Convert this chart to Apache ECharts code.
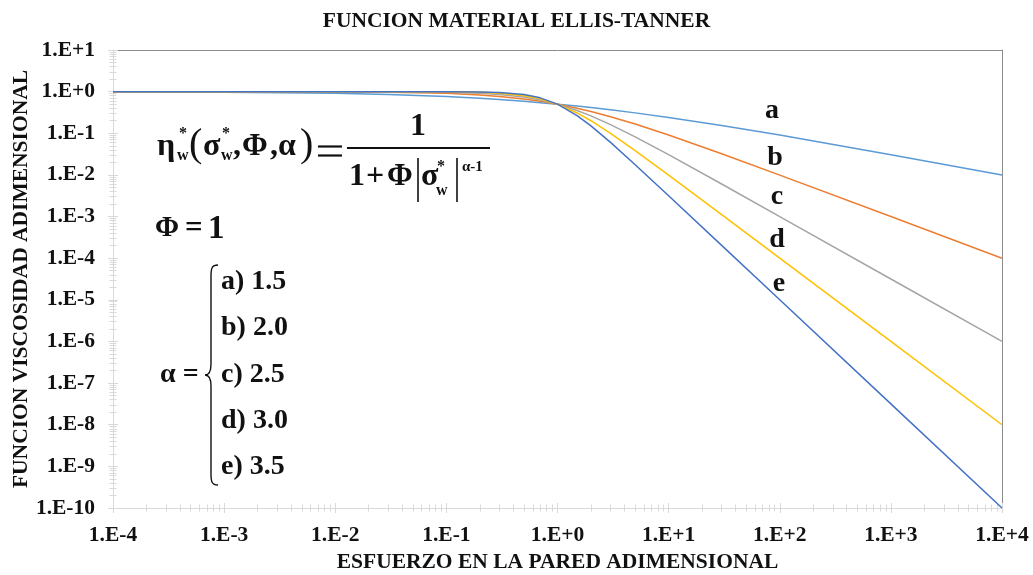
<!DOCTYPE html>
<html>
<head>
<meta charset="utf-8">
<style>
  html, body { margin: 0; padding: 0; background: #fff; }
  #chart { width: 1033px; height: 575px; }
</style>
<script src="https://cdn.jsdelivr.net/npm/echarts@6/dist/echarts.min.js"></script>
</head>
<body>
<div id="chart"></div>
<script>
// Ellis-Tanner material function, eta*(sigma*) for five values of alpha (Phi = 1)
const sigma = [1e-4, 1e-3, 0.01, 0.03, 0.1, 0.2, 0.3, 0.5, 0.7, 1, 1.5, 2, 3, 5, 10, 30, 100, 1000, 10000];
const etaA = [0.9901, 0.9693, 0.9091, 0.8524, 0.7597, 0.6910, 0.6461, 0.5858, 0.5445, 0.5, 0.4495, 0.4142, 0.3660, 0.3090, 0.2403, 0.1544, 0.0909, 0.03065, 0.0099];
const etaB = [0.9999, 0.999, 0.9901, 0.9709, 0.9091, 0.8333, 0.7692, 0.6667, 0.5882, 0.5, 0.4, 0.3333, 0.25, 0.1667, 0.0909, 0.03226, 0.0099, 0.000999, 0.0001];
const etaC = [0.999999, 0.99997, 0.999, 0.99483, 0.96935, 0.91789, 0.8589, 0.73882, 0.6307, 0.5, 0.3525, 0.2612, 0.1614, 0.0821, 0.03065, 0.006048, 0.000999, 3.162e-5, 1e-6];
const etaD = [1, 0.999999, 0.9999, 0.9991, 0.9901, 0.9615, 0.9174, 0.8, 0.6711, 0.5, 0.3077, 0.2, 0.1, 0.03846, 0.0099, 0.00111, 1e-4, 1e-6, 1e-8];
const etaE = [1, 1, 0.99999, 0.99984, 0.99685, 0.98243, 0.95302, 0.84984, 0.70924, 0.5, 0.26626, 0.15022, 0.06028, 0.01757, 0.003152, 0.0002028, 1e-5, 3.162e-8, 1e-10];

const curveNames = ['a', 'b', 'c', 'd', 'e'];
const curveColors = ['#5B9BD5', '#ED7D31', '#A5A5A5', '#FFC000', '#4472C4'];
const alphaValues = ['1.5', '2.0', '2.5', '3.0', '3.5'];

const xTickValues = [1e-4, 1e-3, 1e-2, 1e-1, 1, 1e1, 1e2, 1e3, 1e4];
const xTickLabels = ['1.E-4', '1.E-3', '1.E-2', '1.E-1', '1.E+0', '1.E+1', '1.E+2', '1.E+3', '1.E+4'];
const yTickValues = [1e-10, 1e-9, 1e-8, 1e-7, 1e-6, 1e-5, 1e-4, 1e-3, 1e-2, 1e-1, 1, 1e1];
const yTickLabels = ['1.E-10', '1.E-9', '1.E-8', '1.E-7', '1.E-6', '1.E-5', '1.E-4', '1.E-3', '1.E-2', '1.E-1', '1.E+0', '1.E+1'];
const minorSteps = [2, 3, 4, 5, 6, 7, 8, 9];

// minor ticks at 2..9 within every decade
function minorTicks(decades) {
  const out = [];
  for (let i = 0; i < decades.length - 1; i++) {
    minorSteps.forEach(m => out.push(decades[i] * m));
  }
  return out;
}
const xMinor = minorTicks(xTickValues);
const yMinor = minorTicks(yTickValues);

function labelFor(values, labels) {
  return function (v) {
    const lv = Math.log10(v);
    const i = values.findIndex(t => Math.abs(Math.log10(t) - lv) < 1e-6);
    return i >= 0 ? labels[i] : '';
  };
}

const SERIF = '"Liberation Serif", "Times New Roman", serif';
const AXIS_GRAY = '#D9D9D9';
const BORDER_GRAY = '#8C8C8C';
const INK = '#111111';
const FS = 21.5;

function tickAxis(kind, values, len, inside, extra) {
  return Object.assign({
    type: 'log', logBase: 10,
    min: kind === 'x' ? 1e-4 : 1e-10,
    max: kind === 'x' ? 1e4 : 10,
    position: kind === 'x' ? 'bottom' : 'left',
    axisLine: { show: false },
    axisLabel: { show: false },
    splitLine: { show: false },
    axisTick: { show: true, inside: inside, length: len, customValues: values,
                lineStyle: { color: AXIS_GRAY, width: 1 } }
  }, extra || {});
}

const chart = echarts.init(document.getElementById('chart'), null, { renderer: 'canvas' });

const series = [etaA, etaB, etaC, etaD, etaE].map((eta, k) => ({
  name: curveNames[k],
  type: 'line',
  xAxisIndex: 0, yAxisIndex: 0,
  showSymbol: false,
  smooth: false,
  lineStyle: { color: curveColors[k], width: 1.5 },
  itemStyle: { color: curveColors[k] },
  data: sigma.map((s, i) => [s, eta[i]])
}));

function txt(x, y, text, size, align, weight) {
  return { type: 'text', x: x, y: y, silent: true,
    style: { text: text, font: (weight || 'bold') + ' ' + size + 'px ' + SERIF, fill: INK,
             textAlign: align || 'left', textVerticalAlign: 'middle' } };
}
function bar(x1, y1, x2, y2, w) {
  return { type: 'line', silent: true,
    shape: { x1: x1, y1: y1, x2: x2, y2: y2 },
    style: { stroke: INK, lineWidth: w || 1.6 } };
}
function curve(x1, y1, cx1, cy1, cx2, cy2, x2, y2) {
  return { type: 'bezierCurve', silent: true,
    shape: { x1: x1, y1: y1, cpx1: cx1, cpy1: cy1, cpx2: cx2, cpy2: cy2, x2: x2, y2: y2 },
    style: { stroke: INK, lineWidth: 1.4, fill: null } };
}

const graphics = [
  // left side: eta*_w(sigma*_w, Phi, alpha) =
  txt(157, 147, 'η', 32),
  txt(179, 134, '*', 16),
  txt(177, 156, 'w', 16),
  txt(189, 145, '(', 40, 'left', 'normal'),
  txt(203, 147, 'σ', 32),
  txt(222, 134, '*', 16),
  txt(221, 156, 'w', 16),
  txt(233, 147, ',', 32),
  txt(242, 147, 'Φ', 31),
  txt(270, 147, ',', 32),
  txt(278, 147, 'α', 32),
  txt(300, 145, ')', 40, 'left', 'normal'),
  bar(318, 146.5, 342, 146.5, 2.2),
  bar(318, 155.5, 342, 155.5, 2.2),
  // fraction
  txt(418, 127, '1', 32, 'center'),
  bar(347, 148, 490, 148, 2),
  txt(349, 177, '1', 32),
  txt(366, 177, '+', 32),
  txt(387, 177, 'Φ', 31),
  bar(418, 158, 418, 202),
  txt(421, 177, 'σ', 32),
  txt(437, 167, '*', 16),
  txt(436, 191, 'w', 16),
  bar(457, 158, 457, 202),
  txt(462, 167, 'α-1', 15),
  // Phi = 1
  txt(155, 229, 'Φ', 29),
  txt(185, 229, '=', 31),
  txt(208, 229, '1', 33),
  // alpha = { list
  txt(160, 375, 'α =', 28),
  curve(218, 265, 212, 265, 211, 268, 211, 276),
  bar(211, 276, 211, 364, 1.4),
  curve(211, 364, 211, 371, 209, 375, 205, 375),
  curve(205, 375, 209, 375, 211, 379, 211, 386),
  bar(211, 386, 211, 474, 1.4),
  curve(211, 474, 211, 482, 212, 485, 218, 485)
];
alphaValues.forEach((a, i) => {
  graphics.push(txt(221, 282 + i * 46.2, curveNames[i] + ') ' + a, 28));
});
// curve letters near 1.E+2
const letterPos = [[772, 111], [775, 158], [777, 197], [777, 240], [779, 284]];
curveNames.forEach((n, i) => graphics.push(txt(letterPos[i][0], letterPos[i][1], n, 28, 'center')));

chart.setOption({
  animation: false,
  backgroundColor: '#ffffff',
  title: {
    text: 'FUNCION MATERIAL ELLIS-TANNER',
    left: 'center', top: 10, padding: 0,
    textStyle: { fontFamily: SERIF, fontWeight: 'bold', fontSize: FS, color: INK }
  },
  grid: { left: 113, right: 31, top: 50, bottom: 67, containLabel: false, outerBoundsMode: 'none' },
  xAxis: [
    {
      type: 'log', logBase: 10, min: 1e-4, max: 1e4, position: 'bottom',
      name: 'ESFUERZO EN LA PARED ADIMENSIONAL', nameLocation: 'middle', nameGap: 43,
      nameMoveOverlap: false,
      nameTextStyle: { fontFamily: SERIF, fontWeight: 'bold', fontSize: FS, color: INK },
      axisLine: { show: true, lineStyle: { color: AXIS_GRAY, width: 1 } },
      axisTick: { show: true, inside: false, length: 5, customValues: xTickValues,
                  lineStyle: { color: AXIS_GRAY } },
      axisLabel: { show: true, customValues: xTickValues, margin: 16,
                   formatter: labelFor(xTickValues, xTickLabels),
                   fontFamily: SERIF, fontWeight: 'bold', fontSize: FS, color: INK },
      splitLine: { show: false }, minorTick: { show: false }
    },
    tickAxis('x', xTickValues, 5, true),
    tickAxis('x', xMinor, 3.5, false),
    tickAxis('x', xMinor, 3.5, true),
    tickAxis('x', xTickValues, 0, false, {
      position: 'top',
      axisTick: { show: false },
      axisLine: { show: true, lineStyle: { color: BORDER_GRAY, width: 1 } }
    })
  ],
  yAxis: [
    {
      type: 'log', logBase: 10, min: 1e-10, max: 10, position: 'left',
      name: 'FUNCION VISCOSIDAD ADIMENSIONAL', nameLocation: 'middle', nameGap: 81,
      nameMoveOverlap: false,
      nameTextStyle: { fontFamily: SERIF, fontWeight: 'bold', fontSize: FS, color: INK },
      axisLine: { show: true, lineStyle: { color: AXIS_GRAY, width: 1 } },
      axisTick: { show: true, inside: false, length: 5, customValues: yTickValues,
                  lineStyle: { color: AXIS_GRAY } },
      axisLabel: { show: true, customValues: yTickValues, margin: 18,
                   formatter: labelFor(yTickValues, yTickLabels),
                   fontFamily: SERIF, fontWeight: 'bold', fontSize: FS, color: INK },
      splitLine: { show: false }, minorTick: { show: false }
    },
    tickAxis('y', yTickValues, 5, true),
    tickAxis('y', yMinor, 3.5, false),
    tickAxis('y', yMinor, 3.5, true),
    tickAxis('y', yTickValues, 0, false, {
      position: 'right',
      axisTick: { show: false },
      axisLine: { show: true, lineStyle: { color: BORDER_GRAY, width: 1 } }
    })
  ],
  series: series,
  graphic: graphics
});
</script>
</body>
</html>
